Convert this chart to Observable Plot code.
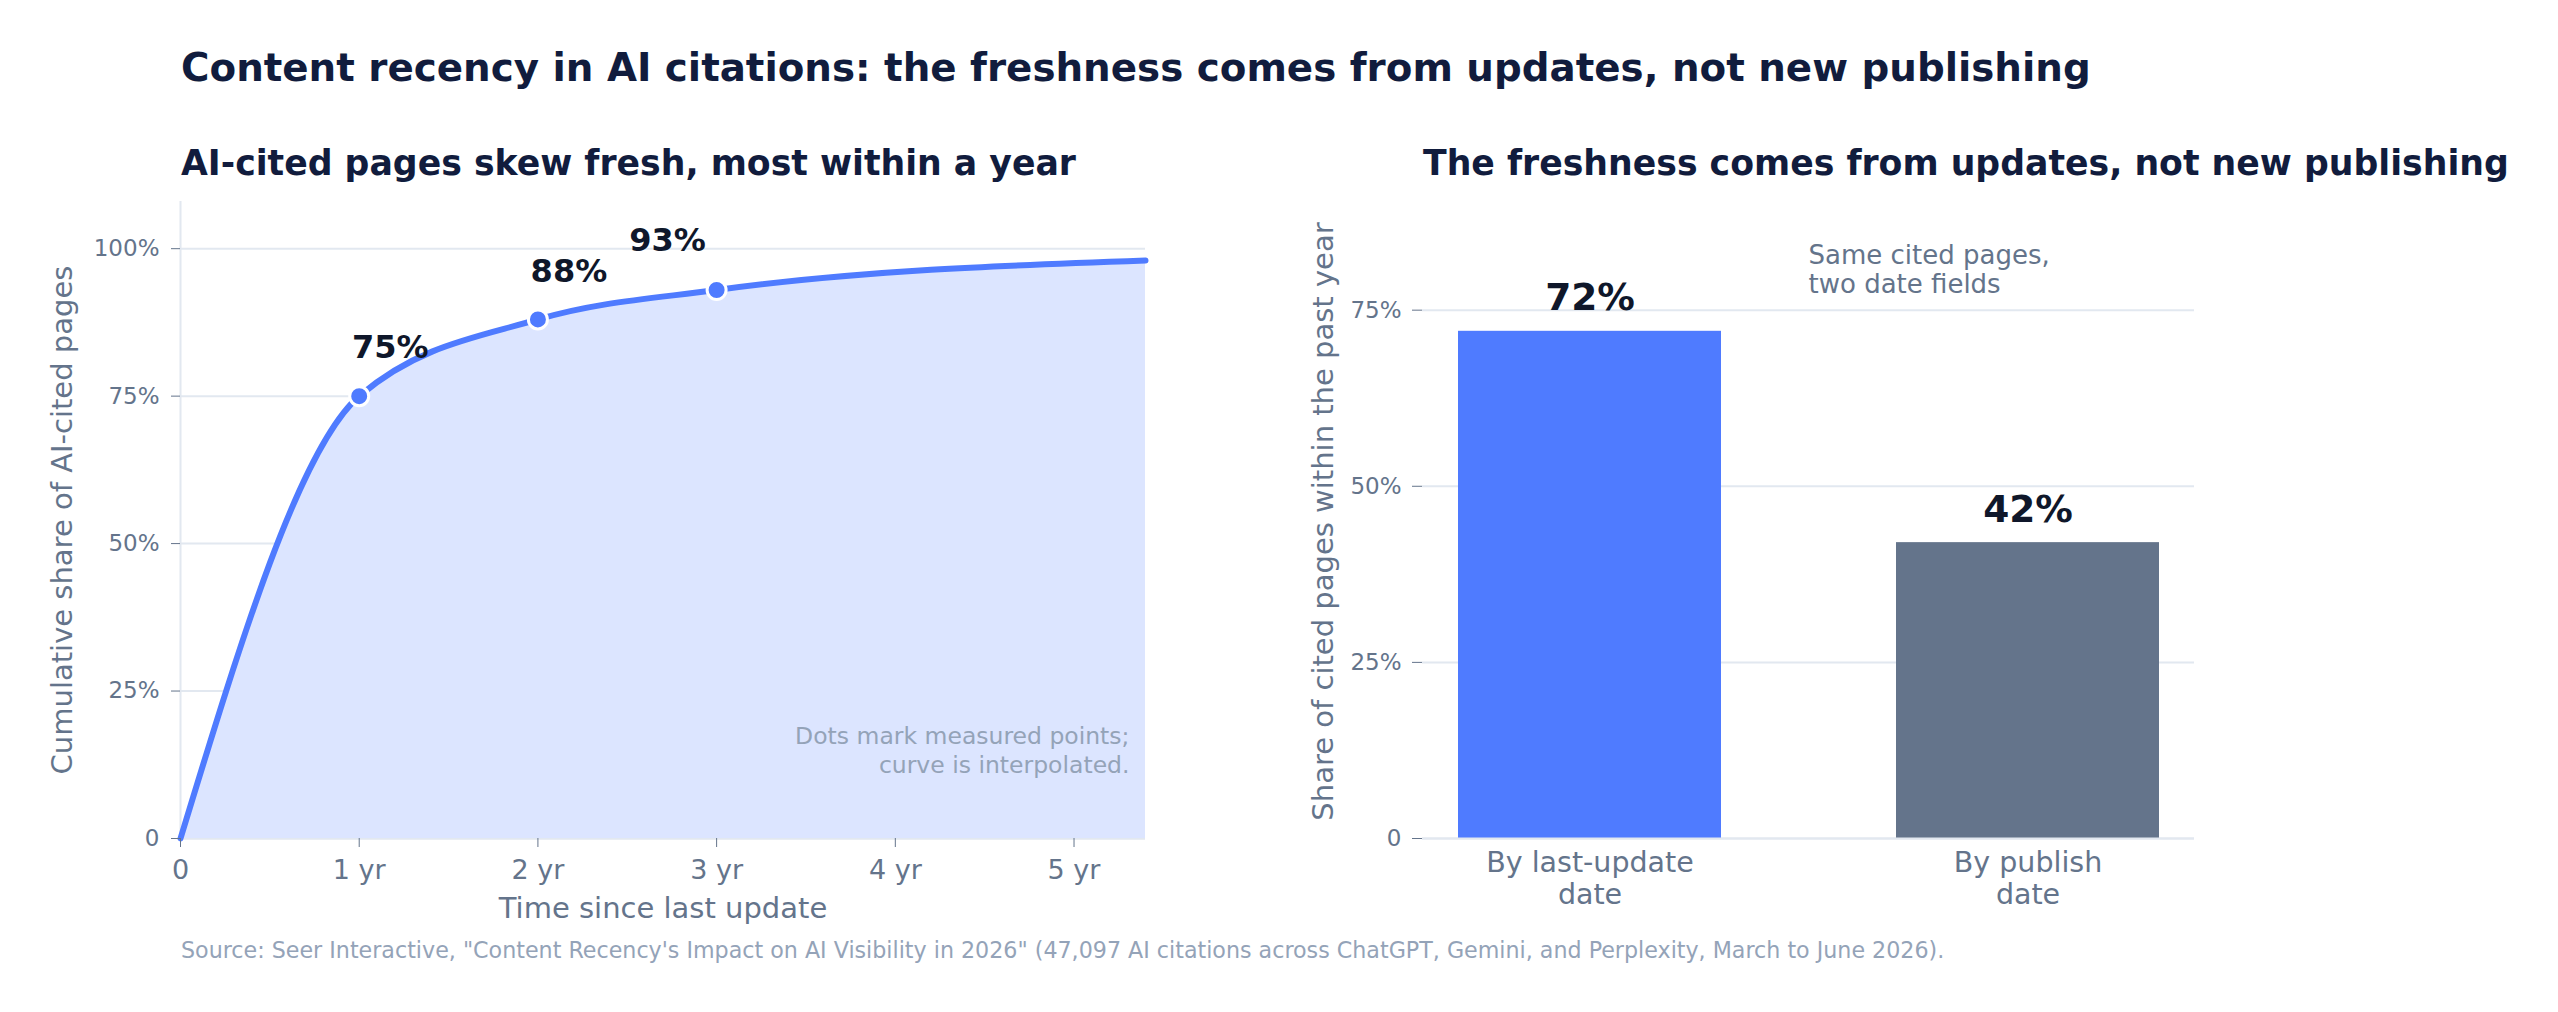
<!DOCTYPE html>
<html><head><meta charset="utf-8">
<script src="https://cdn.jsdelivr.net/npm/d3@7"></script>
<script src="https://cdn.jsdelivr.net/npm/@observablehq/plot@0.6"></script>
<style>
html,body{margin:0;padding:0;background:#fff;}
#root{position:relative;width:2558px;height:1012px;font-family:"DejaVu Sans",sans-serif;overflow:hidden;background:#fff;}
.t{position:absolute;white-space:nowrap;line-height:1.164;margin:0;}
.title{font-weight:bold;color:#111c3d;}
svg{position:absolute;top:0;}
</style></head><body><div id="root"></div>
<script>
// ---- data ----
const curveYears = [0, 1, 2, 3, 5.4];
const curveShares = [0, 0.75, 0.88, 0.93, 0.98];
const measuredYears = [1, 2, 3];
const measuredShares = [0.75, 0.88, 0.93];
const measuredLabels = ["75%", "88%", "93%"];
const xTicks = [0, 1, 2, 3, 4, 5];
const xTickLabels = ["0", "1 yr", "2 yr", "3 yr", "4 yr", "5 yr"];
const yTicksLeft = [0, 0.25, 0.5, 0.75, 1];
const yTickLabelsLeft = ["0", "25%", "50%", "75%", "100%"];
const barCategories = ["By last-update date", "By publish date"];
const barTickLabels = ["By last-update\ndate", "By publish\ndate"];
const barValues = [0.72, 0.42];
const barValueLabels = ["72%", "42%"];
const yTicksRight = [0, 0.25, 0.5, 0.75];
const yTickLabelsRight = ["0", "25%", "50%", "75%"];

const curveData = curveYears.map((x, i) => ({year: x, share: curveShares[i]}));
const measured = measuredYears.map((x, i) => ({year: x, share: measuredShares[i], label: measuredLabels[i]}));
const bars = barCategories.map((c, i) => ({cat: c, value: barValues[i], label: barValueLabels[i], tick: barTickLabels[i]}));

const BLUE = "#4f7bff", FILL = "#dce5ff", GRID = "#e2e8f0", MUTED = "#64748b", LIGHT = "#94a3b8", DARK = "#0f172a";
const root = document.getElementById("root");

function addText(txt, cls, left, top, size, color, weight) {
  const d = document.createElement("div");
  d.className = "t " + cls;
  d.textContent = txt;
  d.style.left = left + "px"; d.style.top = top + "px";
  d.style.fontSize = size + "px";
  if (color) d.style.color = color;
  if (weight) d.style.fontWeight = weight;
  root.appendChild(d);
}

// titles
addText("Content recency in AI citations: the freshness comes from updates, not new publishing", "title", 181, 45, 38.8);
addText("AI-cited pages skew fresh, most within a year", "title", 181, 143, 34.7);
addText("The freshness comes from updates, not new publishing", "title", 1423, 143, 34.7);

// ---- left chart ----
const left = Plot.plot({
  width: 1200, height: 1012,
  marginLeft: 180, marginRight: 55, marginTop: 201, marginBottom: 174,
  style: {fontFamily: "DejaVu Sans", background: "transparent", overflow: "visible"},
  x: {domain: [0, 5.4], label: null},
  y: {domain: [0, 1.08], label: null},
  marks: [
    Plot.gridY(yTicksLeft, {stroke: GRID, strokeOpacity: 1, strokeWidth: 2}),
    Plot.ruleX([0], {stroke: GRID, strokeWidth: 2}),
    Plot.ruleY([0], {stroke: GRID, strokeWidth: 2}),
    Plot.areaY(curveData, {x: "year", y: "share", curve: "monotone-x", fill: FILL}),
    Plot.line(curveData, {x: "year", y: "share", curve: "monotone-x", stroke: BLUE, strokeWidth: 6}),
    Plot.dot(measured, {x: "year", y: "share", r: 9.5, fill: BLUE, stroke: "white", strokeWidth: 3}),
    Plot.text(measured.slice(0, 2), {x: "year", y: "share", text: "label", dx: 31, dy: -48, fontSize: 32, fontWeight: "bold", fill: DARK}),
    Plot.text(measured.slice(2), {x: "year", y: "share", text: "label", dx: -49, dy: -49, fontSize: 32, fontWeight: "bold", fill: DARK}),
    Plot.axisY(yTicksLeft, {tickFormat: d => yTickLabelsLeft[yTicksLeft.indexOf(d)], tickSize: 9, tickPadding: 12, fontSize: 23, color: MUTED, label: null}),
    Plot.axisX(xTicks, {tickFormat: d => xTickLabels[xTicks.indexOf(d)], tickSize: 9, tickPadding: 12, fontSize: 27, color: MUTED, label: null}),
    Plot.text(["Time since last update"], {text: d => d, frameAnchor: "bottom", lineAnchor: "middle", dy: 70, fontSize: 29, fill: MUTED}),
    Plot.text(["Cumulative share of AI-cited pages"], {text: d => d, frameAnchor: "left", textAnchor: "middle", lineAnchor: "middle", rotate: -90, dx: -118, fontSize: 29, fill: MUTED}),
    Plot.text(["Dots mark measured points;\ncurve is interpolated."], {text: d => d, frameAnchor: "bottom-right", textAnchor: "end", lineAnchor: "middle", dx: -16, dy: -89, fontSize: 23.5, lineHeight: 1.2, fill: LIGHT})
  ]
});
left.style.left = "0px";
root.appendChild(left);

// ---- right chart ----
const right = Plot.plot({
  width: 1358, height: 1012,
  marginLeft: 222, marginRight: 364, marginTop: 204, marginBottom: 174,
  style: {fontFamily: "DejaVu Sans", background: "transparent", overflow: "visible"},
  x: {domain: barCategories, paddingInner: 0.4, paddingOuter: 0.081, label: null, axis: null},
  y: {domain: [0, 0.9], label: null},
  color: {domain: barCategories, range: [BLUE, MUTED]},
  marks: [
    Plot.gridY(yTicksRight, {stroke: GRID, strokeOpacity: 1, strokeWidth: 2}),
    Plot.barY(bars, {x: "cat", y: "value", fill: "cat"}),
    Plot.ruleY([0], {stroke: GRID, strokeWidth: 2}),
    Plot.text(bars, {x: "cat", y: "value", text: "label", dy: -33, fontSize: 37.5, fontWeight: "bold", fill: DARK}),
    Plot.text(bars, {x: "cat", text: "tick", frameAnchor: "bottom", lineAnchor: "middle", dy: 39, fontSize: 28.5, lineHeight: 1.12, fill: MUTED}),
    Plot.axisY(yTicksRight, {tickFormat: d => yTickLabelsRight[yTicksRight.indexOf(d)], tickSize: 10, tickPadding: 11, fontSize: 23, color: MUTED, label: null}),
    Plot.text(["Share of cited pages within the past year"], {text: d => d, frameAnchor: "left", textAnchor: "middle", lineAnchor: "middle", rotate: -90, dx: -99, fontSize: 29, fill: MUTED}),
    Plot.text(["Same cited pages,\ntwo date fields"], {text: d => d, frameAnchor: "top-left", textAnchor: "start", lineAnchor: "middle", dx: 386, dy: 65, fontSize: 26, lineHeight: 1.12, fill: MUTED})
  ]
});
right.style.left = "1200px";
root.appendChild(right);

// source
addText("Source: Seer Interactive, \"Content Recency's Impact on AI Visibility in 2026\" (47,097 AI citations across ChatGPT, Gemini, and Perplexity, March to June 2026).", "", 181, 938, 22.2, LIGHT, "normal");
</script></body></html>
